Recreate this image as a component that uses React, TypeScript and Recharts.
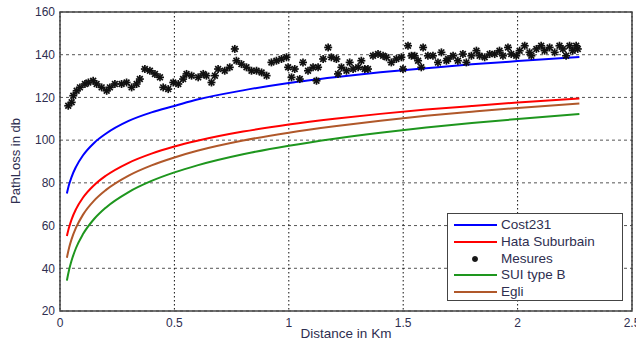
import React from 'react';
import { ComposedChart, Line, Scatter, XAxis, YAxis, CartesianGrid, ReferenceArea } from 'recharts';

const distances = [0.03, 0.04, 0.05, 0.07, 0.1, 0.15, 0.2, 0.3, 0.4, 0.5, 0.6, 0.8, 1.0, 1.2, 1.4, 1.6, 1.8, 2.0, 2.27];
const cost231 = [75.0, 79.3, 82.6, 87.5, 92.8, 98.8, 103.0, 109.0, 113.0, 116.0, 119.0, 123.3, 126.8, 129.5, 131.8, 133.7, 135.5, 137.0, 138.9];
const hataSuburbain = [55.1, 59.3, 62.7, 67.7, 73.0, 79.0, 83.3, 89.4, 93.7, 97.0, 99.7, 104.0, 107.3, 110.0, 112.3, 114.3, 116.0, 117.6, 119.5];
const suiTypeB = [34.2, 39.4, 43.4, 49.5, 55.9, 63.2, 68.4, 75.7, 80.9, 84.9, 88.2, 93.4, 97.4, 100.7, 103.5, 105.9, 108.0, 109.9, 112.2];
const egli = [44.9, 49.7, 53.4, 59.0, 65.0, 71.8, 76.6, 83.4, 88.2, 91.9, 95.0, 99.8, 103.5, 106.5, 109.1, 111.4, 113.3, 115.1, 117.2];

const measureD = [
  0.036, 0.051, 0.058, 0.073, 0.087, 0.109, 0.124, 0.145, 0.16, 0.182, 0.204, 0.218, 0.24, 0.269, 0.291, 0.313, 0.335, 0.349, 0.371, 0.393,
  0.415, 0.437, 0.451, 0.473, 0.495, 0.517, 0.538, 0.553, 0.575, 0.604, 0.626, 0.64, 0.662, 0.677, 0.691, 0.72, 0.742, 0.764, 0.771, 0.793,
  0.815, 0.837, 0.859, 0.881, 0.903, 0.924, 0.946, 0.968, 0.99, 0.997, 1.012, 1.026, 1.048, 1.062, 1.084, 1.106, 1.121, 1.128, 1.15, 1.172,
  1.186, 1.208, 1.215, 1.23, 1.252, 1.266, 1.281, 1.303, 1.317, 1.332, 1.346, 1.368, 1.39, 1.412, 1.427, 1.448, 1.47, 1.492, 1.499, 1.521,
  1.536, 1.55, 1.565, 1.579, 1.587, 1.608, 1.63, 1.652, 1.667, 1.689, 1.696, 1.718, 1.739, 1.761, 1.776, 1.798, 1.82, 1.834, 1.856, 1.878,
  1.9, 1.921, 1.936, 1.958, 1.972, 1.994, 2.009, 2.031, 2.052, 2.06, 2.082, 2.103, 2.118, 2.14, 2.162, 2.183, 2.198, 2.212, 2.227, 2.241,
  2.256, 2.263,
];
const measureV = [
  116.1, 117.7, 120.8, 123.1, 124.7, 126.3, 127.0, 127.8, 126.3, 124.7, 123.1, 124.7, 126.3, 126.3, 127.0, 124.7, 126.3, 128.6, 133.3, 132.5,
  131.0, 129.4, 124.7, 123.9, 127.0, 126.3, 128.6, 131.0, 130.2, 129.4, 131.0, 130.2, 127.0, 130.2, 133.3, 132.5, 134.1, 142.7, 137.2, 135.6,
  134.1, 132.5, 132.5, 131.7, 130.2, 136.4, 137.2, 138.0, 138.8, 134.1, 129.4, 133.3, 128.6, 136.4, 132.5, 134.1, 127.8, 134.1, 138.0, 143.4,
  138.8, 138.0, 131.0, 134.1, 132.5, 136.4, 133.3, 134.1, 137.2, 133.3, 133.3, 139.5, 140.3, 139.5, 138.8, 136.4, 138.0, 138.8, 133.3, 144.2,
  139.5, 139.5, 137.2, 134.1, 143.4, 139.5, 139.5, 136.4, 141.1, 137.2, 138.0, 139.5, 137.2, 140.3, 136.4, 139.5, 141.9, 139.5, 138.8, 140.3,
  140.3, 141.9, 139.5, 143.4, 140.3, 139.5, 141.9, 144.2, 141.1, 139.5, 142.7, 144.2, 141.9, 143.4, 141.1, 144.2, 142.7, 139.5, 144.2, 141.9,
  144.2, 142.7,
];

const xTicks = [0, 0.5, 1, 1.5, 2, 2.5];
const yTicks = [20, 40, 60, 80, 100, 120, 140, 160];

const legendItems = [
  { name: 'Cost231', color: '#0000ff', kind: 'line' },
  { name: 'Hata Suburbain', color: '#ff0000', kind: 'line' },
  { name: 'Mesures', color: '#000000', kind: 'star' },
  { name: 'SUI type B', color: '#1e961e', kind: 'line' },
  { name: 'Egli', color: '#b0582a', kind: 'line' },
];

const lineRows = distances.map((d, i) => ({
  d,
  cost: cost231[i],
  hata: hataSuburbain[i],
  sui: suiTypeB[i],
  egli: egli[i],
}));
const measureRows = measureD.map((d, i) => ({ d, m: measureV[i] }));

const FONT = '"Liberation Sans", Arial, sans-serif';
const TEXT = '#2e2e50';

const StarShape = (props: any) => {
  const { cx, cy, markR } = props;
  if (cx == null || cy == null) return null;
  const r = markR ?? 4;
  const q = r * 0.72;
  return (
    <g stroke="#111" strokeWidth={1.7}>
      <line x1={cx - r} y1={cy} x2={cx + r} y2={cy} />
      <line x1={cx} y1={cy - r} x2={cx} y2={cy + r} />
      <line x1={cx - q} y1={cy - q} x2={cx + q} y2={cy + q} />
      <line x1={cx - q} y1={cy + q} x2={cx + q} y2={cy - q} />
    </g>
  );
};

const YLabel = () => (
  <text x={17} y={161} transform="rotate(-90 17 161)" textAnchor="middle" dominantBaseline="middle" fontSize={13} fill={TEXT} fontFamily={FONT}>
    PathLoss in db
  </text>
);

const XLabel = () => (
  <text x={346} y={338} textAnchor="middle" fontSize={13.5} fill={TEXT} fontFamily={FONT}>
    Distance in Km
  </text>
);

export default function App() {
  const rowTops = [11, 28, 45, 61, 78];
  return (
    <div style={{ position: 'absolute', left: 0, top: 0, width: 636, height: 345, background: '#fff' }}>
      <ComposedChart width={636} height={345} data={lineRows} margin={{ top: 12, right: 4, bottom: 0, left: 0 }}>
        <CartesianGrid horizontal={true} vertical={false} stroke="#555" strokeDasharray="3 3" />
        <CartesianGrid horizontal={false} vertical={true} stroke="#111" strokeDasharray="1.5 2.5" />
        <XAxis
          dataKey="d"
          type="number"
          domain={[0, 2.5]}
          ticks={xTicks}
          allowDataOverflow
          height={34}
          axisLine={false}
          tickLine={false}
          tickSize={3}
          tickMargin={4}
          interval={0}
          tick={{ fontSize: 12, fill: TEXT, fontFamily: FONT }}
          label={<XLabel />}
        />
        <YAxis
          type="number"
          domain={[20, 160]}
          ticks={yTicks}
          allowDataOverflow
          width={60}
          axisLine={false}
          tickLine={false}
          tickSize={3}
          tickMargin={2}
          interval={0}
          tick={{ fontSize: 12, fill: TEXT, fontFamily: FONT }}
          label={<YLabel />}
        />
        <ReferenceArea x1={0} x2={2.5} y1={20} y2={160} fill="none" stroke="#444" strokeWidth={1.5} ifOverflow="visible" />
        <Line type="monotone" dataKey="cost" stroke="#0000ff" strokeWidth={2} dot={false} isAnimationActive={false} />
        <Line type="monotone" dataKey="hata" stroke="#ff0000" strokeWidth={2} dot={false} isAnimationActive={false} />
        <Scatter data={measureRows} dataKey="m" shape={<StarShape />} isAnimationActive={false} />
        <Line type="monotone" dataKey="sui" stroke="#1e961e" strokeWidth={2} dot={false} isAnimationActive={false} />
        <Line type="monotone" dataKey="egli" stroke="#b0582a" strokeWidth={2} dot={false} isAnimationActive={false} />
      </ComposedChart>
      <div
        style={{
          position: 'absolute',
          left: 447,
          top: 213,
          width: 176,
          height: 88,
          boxSizing: 'border-box',
          border: '1.5px solid #444',
          background: '#fff',
          fontFamily: FONT,
        }}
      >
        {legendItems.map((it, i) => (
          <div key={it.name} style={{ position: 'absolute', left: 0, top: rowTops[i] - 9, height: 18, width: 170 }}>
            {it.kind === 'line' ? (
              <div style={{ position: 'absolute', left: 6, top: 8, width: 43, height: 2, background: it.color }} />
            ) : (
              <svg style={{ position: 'absolute', left: 22, top: 4 }} width={10} height={10}>
                <StarShape cx={5} cy={5} markR={3} />
              </svg>
            )}
            <span style={{ position: 'absolute', left: 53, top: 0, lineHeight: '18px', fontSize: 13.5, color: TEXT, whiteSpace: 'nowrap' }}>
              {it.name}
            </span>
          </div>
        ))}
      </div>
    </div>
  );
}
